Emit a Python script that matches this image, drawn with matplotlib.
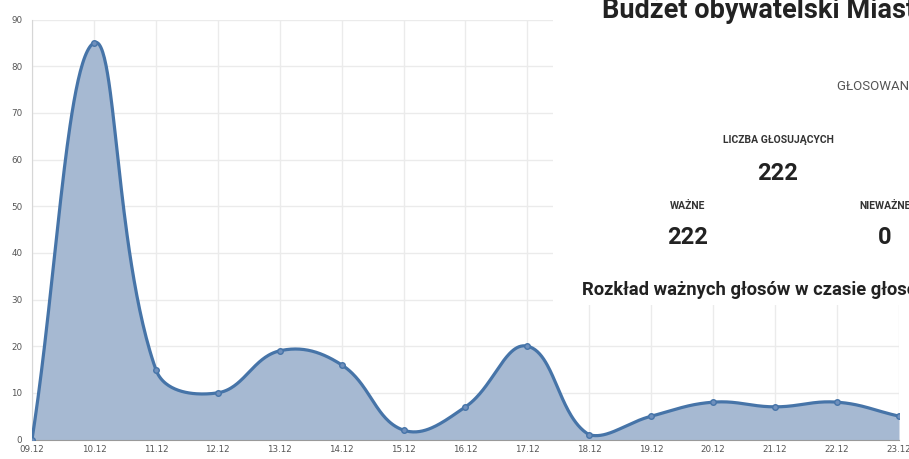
import numpy as np
import matplotlib
matplotlib.use("Agg")
import matplotlib.pyplot as plt
from matplotlib.patches import Rectangle

# ---- data ----
dates = ["09.12", "10.12", "11.12", "12.12", "13.12", "14.12", "15.12", "16.12",
         "17.12", "18.12", "19.12", "20.12", "21.12", "22.12", "23.12"]
votes = [0, 85, 15, 10, 19, 16, 2, 7, 20, 1, 5, 8, 7, 8, 5]
y_ticks = [0, 10, 20, 30, 40, 50, 60, 70, 80, 90]

title_text = "Budżet obywatelski Miasta"
status_text = "GŁOSOWANIE ZAKOŃCZONE"
voters_label = "LICZBA GŁOSUJĄCYCH"
voters_value = "222"
valid_label = "WAŻNE"
valid_value = "222"
invalid_label = "NIEWAŻNE"
invalid_value = "0"
subtitle_text = "Rozkład ważnych głosów w czasie głosowania"

LINE = "#4674a8"
FILL = "#a6b9d2"
GRID = "#ebebeb"
TICK = "#555555"

W, H = 909, 459
fig = plt.figure(figsize=(W / 100, H / 100), dpi=100)
fig.patch.set_facecolor("white")

left_px, right_px, top_px, bottom_px = 32, 899, 19.5, 439.5
ax = fig.add_axes([left_px / W, (H - bottom_px) / H,
                   (right_px - left_px) / W, (bottom_px - top_px) / H])
x = np.arange(len(dates))
ax.set_xlim(0, len(dates) - 1)
ax.set_ylim(0, 90)
ax.set_xticks(x)
ax.set_xticklabels(dates)
ax.set_yticks(y_ticks)
ax.tick_params(axis="both", length=0, labelsize=6.3, colors=TICK)
ax.tick_params(axis="y", pad=7)
ax.tick_params(axis="x", pad=4)
ax.grid(True, color=GRID, linewidth=1)
ax.set_axisbelow(True)
for s in ["top", "right"]:
    ax.spines[s].set_visible(False)
ax.spines["left"].set_color("#d6d6d6")
ax.spines["bottom"].set_color("#9a9a9a")
for lab in ax.get_xticklabels() + ax.get_yticklabels():
    lab.set_fontfamily("DejaVu Sans")

# ---- Chart.js-like spline (tension 0.4), computed in display space ----
fig.canvas.draw()
pts = ax.transData.transform(np.column_stack([x, votes]).astype(float))
bbox = ax.bbox
tension = 0.4
n = len(pts)
cprev = np.zeros_like(pts)
cnext = np.zeros_like(pts)
for i in range(n):
    cur = pts[i]
    prv = pts[i - 1] if i > 0 else cur
    nxt = pts[i + 1] if i < n - 1 else cur
    d01 = np.hypot(*(cur - prv))
    d12 = np.hypot(*(nxt - cur))
    tot = d01 + d12
    s01 = d01 / tot if tot else 0
    s12 = d12 / tot if tot else 0
    cprev[i] = cur - tension * s01 * (nxt - prv)
    cnext[i] = cur + tension * s12 * (nxt - prv)
for arr in (cprev, cnext):
    arr[:, 0] = np.clip(arr[:, 0], bbox.x0, bbox.x1)
    arr[:, 1] = np.clip(arr[:, 1], bbox.y0, bbox.y1)

t = np.linspace(0, 1, 60)[:, None]
curve = []
for i in range(n - 1):
    p0, p1, p2, p3 = pts[i], cnext[i], cprev[i + 1], pts[i + 1]
    seg = ((1 - t) ** 3) * p0 + 3 * ((1 - t) ** 2) * t * p1 + 3 * (1 - t) * t ** 2 * p2 + t ** 3 * p3
    curve.append(seg if i == 0 else seg[1:])
curve = np.vstack(curve)
cdata = ax.transData.inverted().transform(curve)

ax.fill_between(cdata[:, 0], cdata[:, 1], 0, color=FILL, linewidth=0, zorder=2)
ax.plot(cdata[:, 0], cdata[:, 1], color=LINE, linewidth=2.3, zorder=3, solid_capstyle="round")
ax.plot(x, votes, "o", color=LINE, markersize=4, markerfacecolor="#6f90bd",
        markeredgecolor=LINE, markeredgewidth=1, zorder=4)

# ---- overlay panel with page text ----
panel = Rectangle((553 / W, (H - 305) / H), (W - 553) / W, 305 / H,
                  transform=fig.transFigure, facecolor="white", edgecolor="none", zorder=10)
fig.add_artist(panel)

def ftxt(px, py, s, **kw):
    fig.text(px / W, 1 - py / H, s, zorder=11, **kw)

ftxt(602, 18, title_text, fontsize=19.5, fontweight="bold", color="#222222",
     family="Roboto", ha="left", va="baseline")
ftxt(837, 86, status_text, fontsize=9.5, color="#555555", family="Roboto",
     ha="left", va="center")
ftxt(778, 140, voters_label, fontsize=7.5, fontweight="bold", color="#333333",
     family="Roboto", ha="center", va="center")
ftxt(778, 173, voters_value, fontsize=17, fontweight="bold", color="#222222",
     family="Roboto", ha="center", va="center")
ftxt(688, 206, valid_label, fontsize=7.5, fontweight="bold", color="#333333",
     family="Roboto", ha="center", va="center")
ftxt(688, 238, valid_value, fontsize=17, fontweight="bold", color="#222222",
     family="Roboto", ha="center", va="center")
ftxt(885, 206, invalid_label, fontsize=7.5, fontweight="bold", color="#333333",
     family="Roboto", ha="center", va="center")
ftxt(885, 238, invalid_value, fontsize=17, fontweight="bold", color="#222222",
     family="Roboto", ha="center", va="center")
ftxt(582, 295, subtitle_text, fontsize=13.2, fontweight="bold", color="#222222",
     family="Roboto", ha="left", va="baseline")

fig.savefig("out.png", dpi=100, facecolor="white")
